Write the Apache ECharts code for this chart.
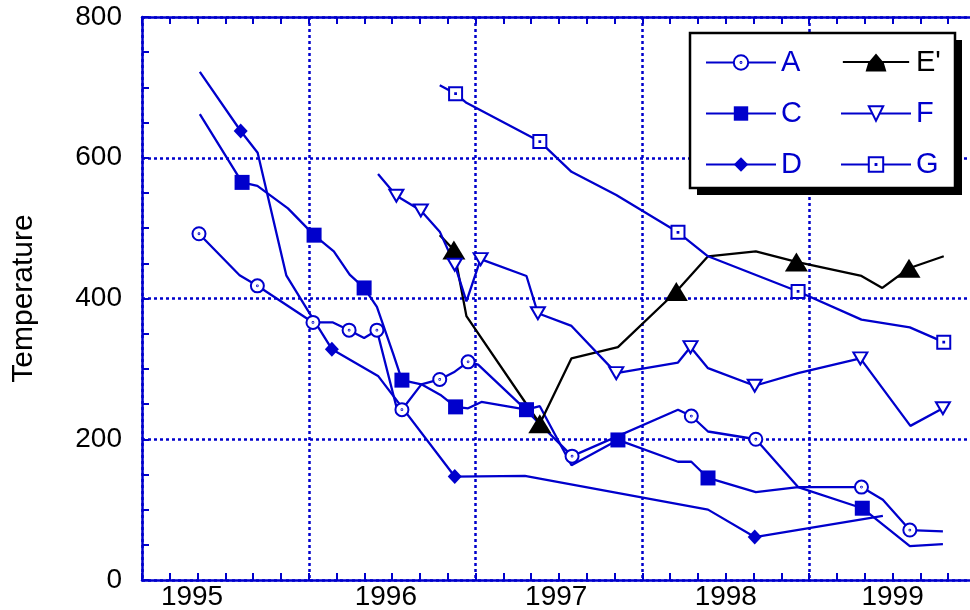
<!DOCTYPE html>
<html>
<head>
<meta charset="utf-8">
<script src="https://cdn.jsdelivr.net/npm/echarts@6/dist/echarts.min.js"></script>
<style>html,body{margin:0;padding:0;background:#fff;}#c{width:970px;height:610px;}</style>
</head>
<body>
<div id="c"></div>
<script>
// x unit: one minor tick (axis runs 0..30, grid lines every 6)
const xLabelPos = [1.8, 8.77, 14.9, 21, 27];
const xLabels = ['1995', '1996', '1997', '1998', '1999'];
const yTicks = [0, 200, 400, 600, 800];

const aX = [2.05,3.51,4.15,6.15,6.87,7.45,7.99,8.45,9.21,9.35,10.05,10.71,11.25,11.73,12.09,13.7,15.47,19.28,19.76,20.36,22.08,23.6,25.88,26.65,27.62,28.81];
const aY = [492,433,418,366,366,355,344,355,237,242,278,285,296,310,306,246,176,242,233,211,200,132,132,114,71,69];
const aMarks = [0,2,3,5,7,9,11,13,16,18,20,22,24];

const cX = [2.08,3.6,4.15,5.25,6.19,6.9,7.47,7.99,8.45,9.03,9.35,10.05,10.77,11.28,11.73,12.21,13.83,14.31,15.45,17.12,19.28,19.76,20.36,22.08,23.6,25.91,27.62,28.81];
const cY = [662,565,560,528,490,467,434,415,388,322,284,278,262,246,244,253,242,247,163,199,168,168,145,125,132,102,48,51];
const cMarks = [1,4,7,10,13,16,19,22,25];

const dX = [2.08,3.55,4.16,5.19,6.03,6.83,8.49,11.25,13.77,20.36,22.04,26.65];
const dY = [722,638,607,433,379,328,290,147,148,100,61,91];
const dMarks = [1,5,7,10];

const eX = [10.71,11.22,11.67,14.31,15.45,17.12,19.22,20.36,22.08,23.54,25.88,26.63,27.59,28.84];
const eY = [490,469,375,222,315,331,410,460,467,452,432,415,443,460];
const eMarks = [1,3,6,9,12];

const fX = [8.49,9.15,10.03,10.71,11.25,11.67,12.18,13.83,14.24,15.45,17.06,19.28,19.73,20.36,22.04,23.6,25.84,27.64,28.81];
const fY = [577,546,525,495,448,396,456,432,379,361,294,309,331,301,276,294,315,219,244];
const fMarks = [1,2,4,6,8,10,12,14,16,18];

const gX = [10.71,11.28,11.67,14.31,15.45,17.06,19.28,20.36,23.6,25.88,27.62,28.84];
const gY = [703,691,678,623,580,547,494,460,410,370,359,338];
const gMarks = [1,3,6,8,11];

const BLUE = '#0000CC';
const FONT = "'Liberation Sans', Arial, sans-serif";
const LW = 2.3;

function pts(xs, ys, marks) {
  return xs.map((x, i) => marks.indexOf(i) >= 0 ? [x, ys[i]] : {value: [x, ys[i]], symbol: 'none'});
}

const circleDot = 'path://M50,0A50,50,0,1,1,50,100A50,50,0,1,1,50,0ZM50,47A3,3,0,1,1,50,53A3,3,0,1,1,50,47Z';
const squareDot = 'path://M0,0H100V100H0ZM47,47H53V53H47Z';
const downTri = 'path://M0,0H100L50,100Z';
const triLegend = 'path://M0,8L28.3,8L35,0L41.7,8L70,8L70,10L43.3,10L46,19L24,19L26.7,10L0,10Z';

function mkSeries(name, xs, ys, marks, sym, size, color, fill) {
  return {
    name: name, type: 'line', data: pts(xs, ys, marks),
    symbol: sym, symbolSize: size, showAllSymbol: true,
    lineStyle: {color: color, width: LW},
    itemStyle: fill ? {color: fill, borderColor: color, borderWidth: 2} : {color: color, borderWidth: 0},
    emphasis: {disabled: true}, animation: false, z: 3
  };
}

const chart = echarts.init(document.getElementById('c'), null, {renderer: 'canvas'});
const tickAxisCommon = {
  type: 'value', min: 0, max: 30, interval: 6,
  axisLine: {show: true, onZero: false, lineStyle: {color: BLUE, width: 2.5}},
  axisTick: {show: true, inside: true, length: 7, lineStyle: {color: BLUE, width: 2}},
  minorTick: {show: true, splitNumber: 6, length: 7, lineStyle: {color: BLUE, width: 2}},
  minorSplitLine: {show: false}
};
chart.setOption({
  animation: false,
  backgroundColor: '#fff',
  grid: {left: 142, top: 17, width: 834, height: 563, containLabel: false, outerBoundsMode: 'none'},
  xAxis: [
    Object.assign({}, tickAxisCommon, {
      position: 'bottom',
      splitLine: {show: true, lineStyle: {color: BLUE, width: 2.5, type: [3, 3]}},
      axisLabel: {
        show: true, customValues: xLabelPos, margin: 3,
        fontSize: 28, color: '#000', fontFamily: FONT,
        formatter: v => { const i = xLabelPos.indexOf(v); return i >= 0 ? xLabels[i] : ''; }
      }
    }),
    Object.assign({}, tickAxisCommon, {
      position: 'top', splitLine: {show: false}, axisLabel: {show: false}
    })
  ],
  yAxis: [{
    type: 'value', min: 0, max: 800, interval: 200,
    axisLine: {show: true, lineStyle: {color: BLUE, width: 2.5}},
    axisTick: {show: true, inside: true, length: 7, lineStyle: {color: BLUE, width: 2}},
    minorTick: {show: true, splitNumber: 4, length: 7, lineStyle: {color: BLUE, width: 2}},
    splitLine: {show: true, lineStyle: {color: BLUE, width: 2.5, type: [3, 3]}},
    axisLabel: {fontSize: 28, color: '#000', fontFamily: FONT, margin: 20,
      formatter: v => yTicks.indexOf(v) >= 0 ? String(v) : ''},
    name: 'Temperature', nameLocation: 'middle', nameGap: 103,
    nameTextStyle: {fontSize: 30, color: '#000', fontFamily: FONT}
  }],
  graphic: [
    {type: 'rect', z: 20, shape: {x: 697, y: 40, width: 265, height: 155}, style: {fill: '#000'}},
    {type: 'rect', z: 21, shape: {x: 690, y: 33, width: 265, height: 155}, style: {fill: '#fff', stroke: '#000', lineWidth: 2.5}}
  ],
  legend: [
    {orient: 'vertical', left: 705, top: 48, z: 30, itemWidth: 70, itemHeight: 18, itemGap: 22,
     selectedMode: false, padding: 0,
     textStyle: {fontSize: 29, color: BLUE, fontFamily: FONT, lineHeight: 28},
     data: ['A', 'C', 'D']},
    {orient: 'vertical', left: 840, top: 48, z: 30, itemWidth: 70, itemHeight: 18, itemGap: 22,
     selectedMode: false, padding: 0,
     textStyle: {fontSize: 29, color: BLUE, fontFamily: FONT, lineHeight: 28},
     data: [{name: "E'", icon: triLegend, itemStyle: {color: '#000'}, textStyle: {color: '#000'}}, 'F', 'G']}
  ],
  series: [
    mkSeries('A', aX, aY, aMarks, circleDot, 13, BLUE, '#fff'),
    mkSeries('C', cX, cY, cMarks, 'rect', 15, BLUE, null),
    mkSeries('D', dX, dY, dMarks, 'diamond', [14, 15], BLUE, null),
    mkSeries("E'", eX, eY, eMarks, 'triangle', [23, 19], '#000', null),
    mkSeries('F', fX, fY, fMarks, downTri, [14, 12], BLUE, '#fff'),
    mkSeries('G', gX, gY, gMarks, squareDot, 13, BLUE, '#fff')
  ]
});
</script>
</body>
</html>
